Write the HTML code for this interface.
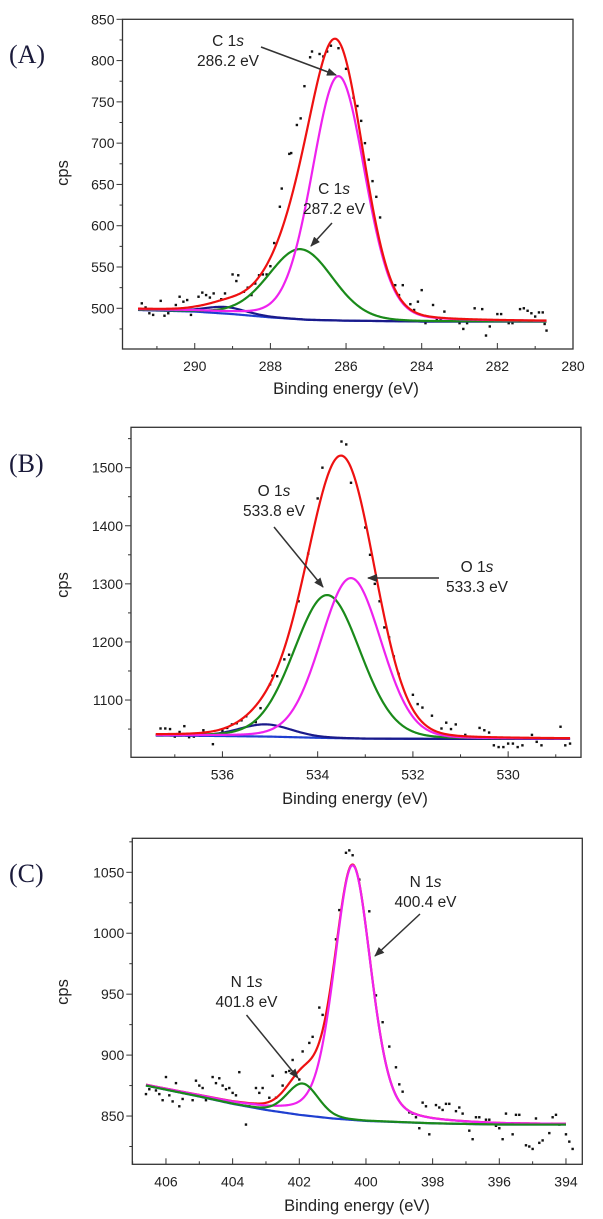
<!DOCTYPE html>
<html><head><meta charset="utf-8"><style>
html,body{margin:0;padding:0;background:#fff;}
svg{display:block;font-family:"Liberation Sans",Arial,sans-serif;}
</style></head><body>
<svg id="chart" width="603" height="1219" viewBox="0 0 603 1219" xmlns="http://www.w3.org/2000/svg">
<defs><marker id="ah" markerWidth="10" markerHeight="8" refX="9" refY="4" orient="auto" markerUnits="userSpaceOnUse"><path d="M0,0 L10,4 L0,8 z" fill="#333"/></marker></defs>
</svg>
<script>
// ---------- data ----------
const ptsA = [[291.4,506],[291.3,501],[291.2,494],[291.1,492],[290.9,509],[290.8,491],[290.7,494],[290.5,504],[290.4,514],[290.3,508],[290.2,510],[290.1,492],[289.9,514],[289.8,519],[289.7,516],[289.6,513],[289.5,518],[289.3,511],[289.2,518],[289.0,541],[288.9,533],[288.85,540],[288.7,520],[288.6,525],[288.5,516],[288.4,530],[288.3,540],[288.2,541],[288.1,541],[288.0,551],[287.9,579],[287.75,623],[287.7,645],[287.5,687],[287.45,688],[287.3,722],[287.2,730],[287.1,769],[286.95,804],[286.9,811],[286.7,808],[286.6,805],[286.5,811],[286.4,818],[286.2,815],[286.0,790],[285.8,755],[285.7,745],[285.6,727],[285.5,700],[285.4,680],[285.3,654],[285.2,635],[285.1,610],[284.7,528],[284.6,516],[284.5,528],[284.3,505],[284.2,498],[284.1,508],[284.0,522],[283.9,482],[283.7,504],[283.6,487],[283.5,487],[283.4,496],[283.0,482],[282.9,475],[282.8,482],[282.6,500],[282.4,499],[282.3,467],[282.2,478],[282.0,493],[281.9,493],[281.7,482],[281.6,482],[281.4,499],[281.3,500],[281.2,497],[281.1,494],[281.0,490],[280.9,495],[280.8,495],[280.75,481],[280.7,473]];
const ptsB = [[537.3,1051],[537.2,1051],[537.1,1050],[537.0,1037],[536.9,1045],[536.8,1055],[536.7,1036],[536.6,1037],[536.4,1048],[536.2,1024],[536.0,1047],[535.9,1052],[535.8,1058],[535.7,1060],[535.6,1065],[535.5,1072],[535.3,1062],[535.2,1086],[535.0,1127],[534.95,1142],[534.85,1141],[534.7,1170],[534.6,1178],[534.4,1270],[534.2,1352],[534.0,1447],[533.9,1500],[533.5,1545],[533.4,1540],[533.3,1474],[533.0,1397],[532.9,1350],[532.8,1300],[532.7,1270],[532.6,1225],[532.5,1208],[532.4,1175],[532.3,1145],[532.0,1109],[531.9,1093],[531.8,1087],[531.6,1073],[531.4,1051],[531.3,1061],[531.2,1050],[531.1,1058],[530.9,1040],[530.6,1052],[530.5,1048],[530.4,1044],[530.3,1022],[530.2,1019],[530.1,1019],[530.0,1025],[529.9,1025],[529.8,1019],[529.7,1022],[529.5,1040],[529.4,1028],[529.3,1022],[529.0,1034],[528.9,1054],[528.8,1022],[528.7,1025]];
const ptsC = [[406.6,868],[406.5,872],[406.3,871],[406.2,868],[406.1,863],[406.0,882],[405.9,867],[405.8,862],[405.7,877],[405.6,858],[405.5,864],[405.2,863],[405.1,879],[405.0,875],[404.9,873],[404.8,863],[404.6,882],[404.5,877],[404.4,881],[404.3,875],[404.2,872],[404.1,873],[404.0,869],[403.9,867],[403.8,886],[403.6,843],[403.5,858],[403.3,873],[403.2,869],[403.1,873],[402.9,865],[402.8,883],[402.7,865],[402.5,875],[402.4,886],[402.3,887],[402.2,896],[402.0,880],[401.9,903],[401.7,910],[401.6,915],[401.4,939],[401.3,933],[401.1,945],[400.9,995],[400.8,1019],[400.6,1066],[400.5,1068],[400.4,1064],[400.2,1044],[399.9,1018],[399.7,949],[399.5,927],[399.3,907],[399.1,890],[399.0,876],[398.9,870],[398.7,853],[398.6,852],[398.5,849],[398.4,840],[398.3,861],[398.2,858],[398.1,835],[397.9,859],[397.8,857],[397.7,855],[397.6,860],[397.5,860],[397.3,854],[397.2,857],[397.1,852],[396.9,838],[396.8,831],[396.7,849],[396.6,849],[396.4,847],[396.3,847],[396.1,842],[396.0,840],[395.9,831],[395.8,852],[395.6,835],[395.5,851],[395.4,851],[395.2,826],[395.1,825],[395.0,823],[394.9,848],[394.8,828],[394.7,830],[394.5,836],[394.4,849],[394.3,851],[394.2,843],[394.0,835],[393.9,829],[393.8,823]];
// baseline knots [eV, cps]
const baseA = [[291.5,498],[290,496],[289,493],[288,489],[287,486],[286,485],[284,484],[280.7,484]];
const baseB = [[537.4,1039],[536,1038],[535,1037],[534,1035],[533,1033.5],[531,1033],[528.7,1033]];
const baseC = [[406.6,875],[405,866],[404,860],[403,855],[402,851],[401,848],[400,846],[398,844],[396,843],[394,843]];
// peaks: [center eV, height, FWHM, lorentz fraction]
const peakNavyA = [289.2, 8, 1.3, 0.2];
const peakGreenA = [287.2, 85, 2.0, 0.1];
const peakPinkA = [286.2, 296, 1.65, 0.15];
const peakNavyB = [535.1, 21, 1.3, 0.1];
const peakGreenB = [533.8, 246, 1.65, 0.1];
const peakPinkB = [533.3, 276, 1.5, 0.1];
const peakGreenC = [401.9, 26, 1.1, 0.15];
const peakPinkC = [400.4, 209, 1.3, 0.3];
const ticksXA = [290,288,286,284,282,280];
const ticksYA = [500,550,600,650,700,750,800,850];
const ticksXB = [536,534,532,530];
const ticksYB = [1100,1200,1300,1400,1500];
const ticksXC = [406,404,402,400,398,396,394];
const ticksYC = [850,900,950,1000,1050];

// ---------- helpers ----------
const NS='http://www.w3.org/2000/svg';
const svg=document.getElementById('chart');
function mk(tag,attrs,parent){const e=document.createElementNS(NS,tag);for(const k in attrs)e.setAttribute(k,attrs[k]);(parent||svg).appendChild(e);return e;}
function interp(kn,x){
  const a=kn.slice().sort((p,q)=>p[0]-q[0]);
  if(x<=a[0][0])return a[0][1];
  for(let i=1;i<a.length;i++){if(x<=a[i][0]){const t=(x-a[i-1][0])/(a[i][0]-a[i-1][0]);return a[i-1][1]+t*(a[i][1]-a[i-1][1]);}}
  return a[a.length-1][1];
}
function pv(p,x){const d=(x-p[0])/p[2];const g=Math.exp(-4*Math.LN2*d*d);const l=1/(1+4*d*d);return p[1]*((1-p[3])*g+p[3]*l);}
function ticksHas(arr,v){return arr.some(a=>Math.abs(a-v)<1e-6);}

function panel(cfg){
  const g=mk('g',{});
  
  
  const sx=v=>cfg.L+(cfg.x0-v)/(cfg.x0-cfg.x1)*(cfg.R-cfg.L);
  const sy=v=>cfg.B-(v-cfg.y0)/(cfg.y1-cfg.y0)*(cfg.B-cfg.T);
  const fr=mk('rect',{x:cfg.L,y:cfg.T,width:cfg.R-cfg.L,height:cfg.B-cfg.T,fill:'none',stroke:'#333','stroke-width':1.3},g);
  
  
  const xa=mk('g',{},g);
  
  
  for(let v=Math.ceil(Math.min(cfg.x0,cfg.x1));v<=Math.max(cfg.x0,cfg.x1);v+=1){
    const major=ticksHas(cfg.tx,v);
    mk('line',{x1:sx(v),x2:sx(v),y1:cfg.B,y2:cfg.B-(major?6:3),stroke:'#333','stroke-width':1},xa);
  }
  cfg.tx.forEach(v=>{const t=mk('text',{x:sx(v),y:cfg.B+22,'text-anchor':'middle','font-size':14,fill:'#222'},xa);t.textContent=v;
    
    });
  const ya=mk('g',{},g);
  
  
  const st=cfg.ty[1]-cfg.ty[0];
  for(let v=cfg.ty[0]-st;v<=cfg.y1;v+=st/2){
    if(v<cfg.y0)continue;
    const major=ticksHas(cfg.ty,v);
    mk('line',{x1:cfg.L,x2:cfg.L-(major?6:3),y1:sy(v),y2:sy(v),stroke:'#333','stroke-width':1},ya);
  }
  cfg.ty.forEach(v=>{const t=mk('text',{x:cfg.L-8,y:sy(v)+5,'text-anchor':'end','font-size':14,fill:'#222'},ya);t.textContent=v;
    
    });
  const xt=mk('text',{x:cfg.xtX,y:cfg.xtY,'text-anchor':'middle','font-size':16.5,fill:'#222'},g);xt.textContent='Binding energy (eV)';
  
  
  const yt=mk('text',{x:0,y:0,'text-anchor':'middle','font-size':16.5,fill:'#222',transform:`translate(${cfg.ytX},${cfg.ytY}) rotate(-90)`},g);yt.textContent='cps';
  
  
  const pl=mk('text',{x:9,y:cfg.plY,'font-size':26,fill:'#1a1a3a','font-family':'"Liberation Serif",serif'},g);pl.textContent=cfg.label;
  
  
  const pg=mk('g',{},g);
  
  
  cfg.pts.forEach(p=>{mk('rect',{x:sx(p[0])-1.2,y:sy(p[1])-1.2,width:2.4,height:2.4,fill:'#111'},pg);});
  const lo=Math.min(cfg.cx0,cfg.cx1),hi=Math.max(cfg.cx0,cfg.cx1);
  const base=x=>interp(cfg.base,x);
  function curve(fn,color,name){
    let d='';for(let i=0;i<=400;i++){const x=lo+(hi-lo)*i/400;d+=(i?'L':'M')+sx(x).toFixed(2)+','+sy(fn(x)).toFixed(2);}
    const p=mk('path',{d:d,fill:'none',stroke:color,'stroke-width':2.2},g);
    
    
  }
  cfg.order.forEach(o=>{
    if(o==='base')curve(base,'#1f3fd0','baseline');
    else if(o==='sum')curve(x=>base(x)+cfg.peaks.reduce((s,p)=>s+pv(p[0],x),0),'#ee1111','fit-envelope');
    else{const pk=cfg.peaks.find(p=>p[2]===o);curve(x=>base(x)+pv(pk[0],x),pk[1],o);}
  });
  cfg.ann.forEach(a=>{
    const t1=mk('text',{x:a.tx,y:a.ty,'text-anchor':'middle','font-size':15.5,fill:'#222'},g);
    t1.innerHTML=a.el+' 1<tspan font-style="italic">s</tspan>';
    
    
    const t2=mk('text',{x:a.tx,y:a.ty+20,'text-anchor':'middle','font-size':15.5,fill:'#222'},g);t2.textContent=a.ev;
    
    
    const ar=mk('line',{x1:a.a[0],y1:a.a[1],x2:a.a[2],y2:a.a[3],stroke:'#333','stroke-width':1.5,'marker-end':'url(#ah)'},g);
    
    
  });
}

panel({name:'panel-a-c1s',label:'(A)',plY:63,L:122.5,R:573,T:19.3,B:349,x0:291.91,x1:280,y0:450.7,y1:850,
  tx:ticksXA,ty:ticksYA,xtX:346,xtY:394,ytX:68,ytY:173,pts:ptsA,base:baseA,cx0:291.5,cx1:280.7,
  peaks:[[peakNavyA,'#1a1a8a','peak-289-2'],[peakGreenA,'#1a8a1a','peak-287-2'],[peakPinkA,'#ee22ee','peak-286-2']],
  order:['base','peak-289-2','peak-287-2','peak-286-2','sum'],
  ann:[{el:'C',ev:'286.2 eV',tx:228,ty:46,a:[261,47,336,75]},{el:'C',ev:'287.2 eV',tx:334,ty:194,a:[332,223,311,246]}]});
panel({name:'panel-b-o1s',label:'(B)',plY:472,L:131,R:581,T:427.3,B:757.3,x0:537.92,x1:528.47,y0:1001.4,y1:1569.5,
  tx:ticksXB,ty:ticksYB,xtX:355,xtY:804,ytX:68,ytY:585,pts:ptsB,base:baseB,cx0:537.4,cx1:528.7,
  peaks:[[peakNavyB,'#1a1a8a','peak-535-1'],[peakGreenB,'#1a8a1a','peak-533-8'],[peakPinkB,'#ee22ee','peak-533-3']],
  order:['base','peak-535-1','peak-533-8','peak-533-3','sum'],
  ann:[{el:'O',ev:'533.8 eV',tx:274,ty:496,a:[274,527,323,587]},{el:'O',ev:'533.3 eV',tx:477,ty:572,a:[439,578,368,578]}]});
panel({name:'panel-c-n1s',label:'(C)',plY:882,L:132.3,R:582.3,T:838.3,B:1164.3,x0:407.01,x1:393.51,y0:810.4,y1:1077.9,
  tx:ticksXC,ty:ticksYC,xtX:357,xtY:1211,ytX:68,ytY:992,pts:ptsC,base:baseC,cx0:406.6,cx1:394,
  peaks:[[peakPinkC,'#ee22ee','peak-400-4'],[peakGreenC,'#1a8a1a','peak-401-8']],
  order:['base','sum','peak-400-4','peak-401-8'],
  ann:[{el:'N',ev:'400.4 eV',tx:425.5,ty:887,a:[420,914,375,956]},{el:'N',ev:'401.8 eV',tx:246.5,ty:987,a:[246.5,1015,298,1078]}]});
</script>
</body></html>
